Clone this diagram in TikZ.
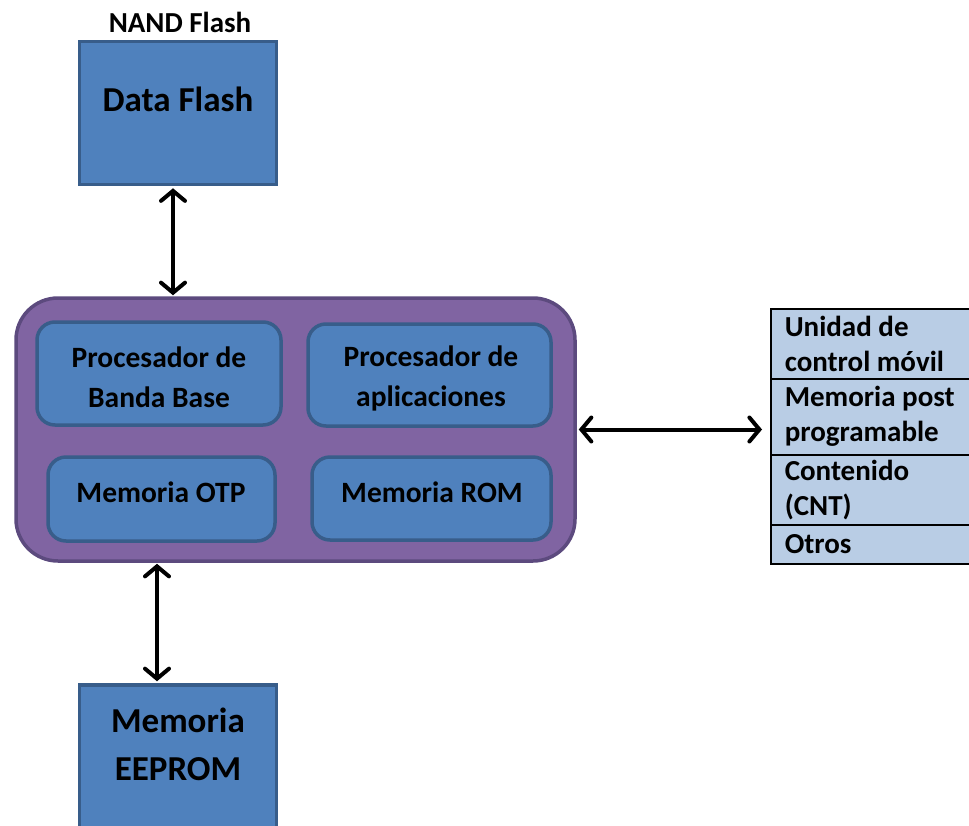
\documentclass[tikz,border=0pt]{standalone}
\usepackage{fontspec}
\setmainfont{Carlito}
\usetikzlibrary{arrows.meta}
\definecolor{boxfill}{HTML}{4F81BD}
\definecolor{boxline}{HTML}{385D8A}
\definecolor{chipfill}{HTML}{8064A2}
\definecolor{chipline}{HTML}{5C4A7E}
\definecolor{tabfill}{HTML}{B9CDE5}
\begin{document}
\begin{tikzpicture}[x=1pt,y=-1pt,
  memb/.style={draw=boxline, fill=boxfill, line width=3.5pt, inner sep=0pt},
  innerbox/.style={memb, rounded corners=18pt},
  bigt/.style={font=\bfseries\fontsize{35}{48}\selectfont, align=center},
  midt/.style={font=\bfseries\fontsize{29.5}{40}\selectfont, align=center},
  tabrow/.style={draw=black, fill=tabfill, line width=1.5pt, anchor=north west,
    text width=186pt, inner xsep=14pt, inner ysep=0pt, align=flush left,
    font=\bfseries\fontsize{29}{35}\selectfont},
  link/.style={line width=4pt, line cap=round,
    {Straight Barb[length=10pt,width=24pt,line cap=round]}-{Straight Barb[length=10pt,width=24pt,line cap=round]}}
]
\clip (0,0) rectangle (969,825);
\fill[white] (0,0) rectangle (969,825);

% top memory
\node[font=\bfseries\fontsize{29}{32}\selectfont] (nand) at (180,22) {NAND Flash};
\node[memb, minimum width=197pt, minimum height=143pt] (df) at (178,113) {};
\node[bigt] (dft) at (178,99) {Data Flash};

% chip
\node[draw=chipline, fill=chipfill, line width=3.5pt, rounded corners=42pt,
  minimum width=559pt, minimum height=263pt] (chip) at (295.5,429.5) {};
\node[innerbox, minimum width=244pt, minimum height=103pt] (bb) at (159,373.5) {};
\node[innerbox, minimum width=243pt, minimum height=102pt] (ap) at (429.5,375) {};
\node[innerbox, minimum width=227pt, minimum height=84pt] (otp) at (161.5,499) {};
\node[innerbox, minimum width=239pt, minimum height=83pt] (rom) at (431.5,498.5) {};
\node[midt] (bbt) at (159,377) {Procesador de\\Banda Base};
\node[midt] (apt) at (431,378) {Procesador de\\aplicaciones};
\node[midt] (otpt) at (161,492) {Memoria OTP};
\node[midt] (romt) at (432,492) {Memoria ROM};

% bottom memory
\node[memb, minimum width=197pt, minimum height=150pt] (ee) at (178,760) {};
\node[bigt] (eet) at (178,744) {Memoria\\EEPROM};

% table
\node[tabrow, minimum height=70pt] (r1) at (770,308) {Unidad de\\control móvil};
\node[tabrow, minimum height=76pt] (r2) at (770,378) {Memoria post\\programable};
\node[tabrow, minimum height=70pt] (r3) at (770,454) {Contenido\\(CNT)};
\node[tabrow, minimum height=39pt] (r4) at (770,524) {Otros};

% connectors
\coordinate (xa) at (173,0);
\coordinate (xb) at (157,0);
\draw[link] ([yshift=-2pt]df.south -| xa) -- ([yshift=1pt]chip.north -| xa);
\draw[link] ([yshift=-1pt]chip.south -| xb) -- ([yshift=2pt]ee.north -| xb);
\draw[link] ([xshift=2pt]chip.east) -- ([xshift=-8pt]r2.west |- chip.east);
\end{tikzpicture}
\end{document}
